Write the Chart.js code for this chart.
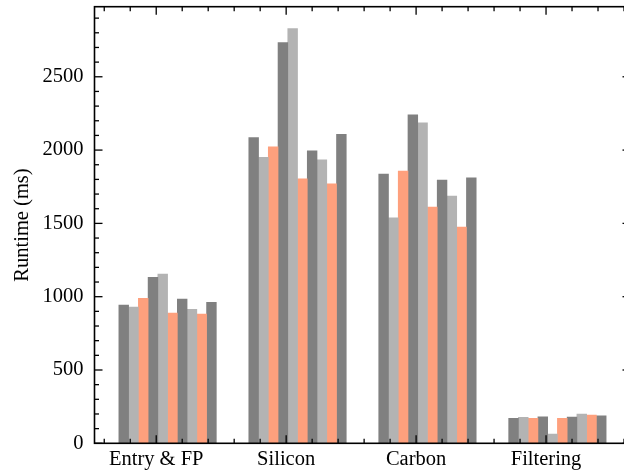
<!DOCTYPE html>
<html>
<head>
<meta charset="utf-8">
<script src="https://cdn.jsdelivr.net/npm/chart.js@4/dist/chart.umd.min.js"></script>
<style>
  html, body { margin: 0; padding: 0; background: #fff; overflow: hidden; }
  canvas { display: block; }
</style>
</head>
<body>
<canvas id="c" width="640" height="475"></canvas>
<script>
// ---- data ----
const categories = ['Entry & FP', 'Silicon', 'Carbon', 'Filtering'];
const run1  = [943, 2086, 1836, 170];
const run2  = [929, 1950, 1538, 177];
const run3  = [988, 2022, 1857, 170];
const run4  = [1132, 2734, 2241, 181];
const run5  = [1154, 2829, 2186, 63];
const run6  = [888, 1804, 1611, 170];
const run7  = [984, 1995, 1795, 179];
const run8  = [913, 1934, 1686, 200];
const run9  = [881, 1770, 1475, 193];
const run10 = [961, 2107, 1811, 188];
const yMajorTicks = [0, 500, 1000, 1500, 2000, 2500];

// ---- styling / layout ----
const series = [run1, run2, run3, run4, run5, run6, run7, run8, run9, run10];
const DARK = '#808080', LIGHT = '#b3b3b3', SALMON = '#fea07d';
const colors = [DARK, LIGHT, SALMON, DARK, LIGHT, SALMON, DARK, LIGHT, SALMON, DARK];
const barW = 0.075;          // bar width in category units
const groupStart = -0.25;    // centre of first bar relative to the category tick
const FONT = { family: '"Liberation Serif", "Times New Roman", serif', size: 20.5 };

const datasets = series.map((vals, i) => ({
  data: vals.map((v, k) => ({ x: k + groupStart + i * barW, y: v })),
  backgroundColor: colors[i],
  borderWidth: 0,
  grouped: false,
  barPercentage: 1,
  categoryPercentage: 1
}));

const frame = {
  id: 'frame',
  afterDatasetsDraw(chart) {
    const { ctx, chartArea: a, scales: { x, y } } = chart;
    ctx.save();
    ctx.strokeStyle = '#000';
    ctx.lineWidth = 1.3;
    const line = (x1, y1, x2, y2) => { ctx.beginPath(); ctx.moveTo(x1, y1); ctx.lineTo(x2, y2); ctx.stroke(); };
    for (let v = 0; v <= y.max; v += 100) {
      const py = y.getPixelForValue(v);
      const len = v % 500 === 0 ? 8 : 4.5;
      line(a.left, py, a.left + len, py);
      line(a.right, py, a.right - len, py);
    }
    for (let k = -5; k <= 25; k++) {
      const v = k * 0.2;
      if (v < x.min || v > x.max) continue;
      const px = x.getPixelForValue(v);
      const len = k % 5 === 0 ? 8 : 4.5;
      line(px, a.bottom, px, a.bottom - len);
      line(px, a.top, px, a.top + len);
    }
    ctx.lineWidth = 1.6;
    ctx.strokeRect(a.left, a.top, a.right - a.left, a.bottom - a.top);
    ctx.restore();
  }
};

new Chart(document.getElementById('c'), {
  type: 'bar',
  data: { datasets },
  options: {
    responsive: false,
    animation: false,
    devicePixelRatio: 1,
    layout: { padding: { top: 6.7, right: 9.5, left: 0, bottom: 0 } },
    plugins: { legend: { display: false }, tooltip: { enabled: false } },
    scales: {
      x: {
        type: 'linear',
        offset: false,
        min: -0.475,
        max: 3.65,
        grid: { display: false, drawTicks: false },
        border: { display: false },
        afterBuildTicks: (s) => { s.ticks = categories.map((c, k) => ({ value: k })); },
        afterFit: (s) => { s.height = 31.7; s.paddingLeft = 0; s.paddingRight = 0; },
        ticks: {
          autoSkip: false, maxRotation: 0, minRotation: 0,
          padding: 4, color: '#000', font: FONT,
          callback: (v) => categories[v]
        }
      },
      y: {
        min: 0,
        max: 2978,
        grid: { display: false, drawTicks: false },
        border: { display: false },
        afterBuildTicks: (s) => { s.ticks = yMajorTicks.map(v => ({ value: v })); },
        afterFit: (s) => { s.width = 94.5; s.paddingTop = 0; s.paddingBottom = 0; },
        ticks: { padding: 11, color: '#000', font: FONT, callback: (v) => String(v) },
        title: { display: true, text: 'Runtime (ms)', color: '#000', font: FONT, padding: { top: 10, bottom: 0 } }
      }
    }
  },
  plugins: [frame]
});
</script>
</body>
</html>
